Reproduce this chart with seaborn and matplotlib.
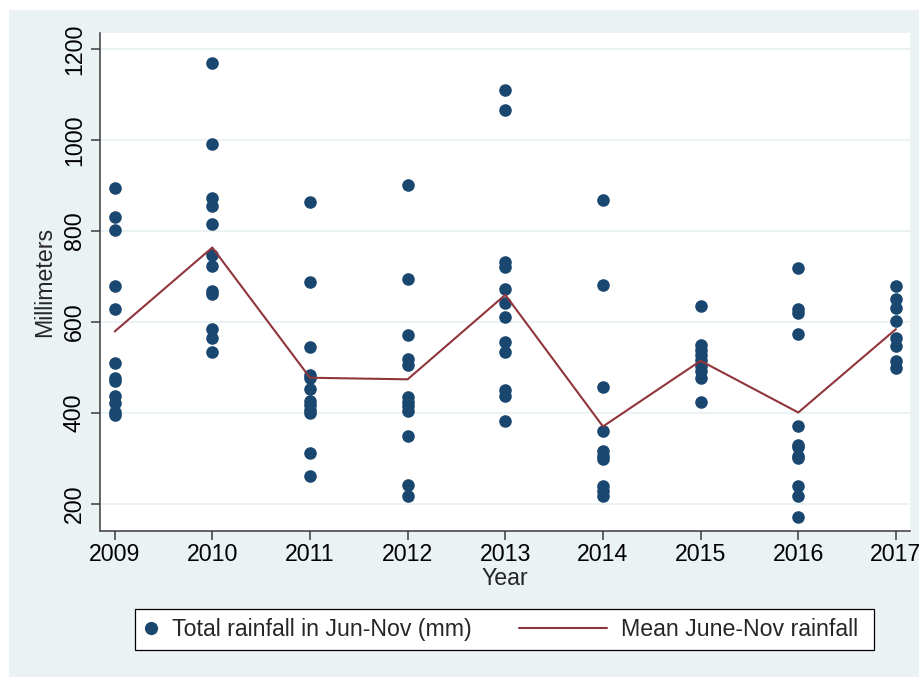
import matplotlib
matplotlib.use("Agg")
import matplotlib.pyplot as plt
import seaborn as sns
import pandas as pd
from matplotlib.patches import Rectangle
from matplotlib.lines import Line2D
from matplotlib.legend_handler import HandlerLine2D

# Rainfall totals (mm) per station, June-November, by year
years = [2009, 2010, 2011, 2012, 2013, 2014, 2015, 2016, 2017]
rain_2009 = [894, 831, 802, 678, 629, 509, 477, 470, 437, 421, 401, 396]
rain_2010 = [1168, 992, 873, 854, 815, 747, 723, 667, 662, 585, 564, 533]
rain_2011 = [864, 687, 544, 484, 476, 453, 426, 416, 407, 399, 311, 262]
rain_2012 = [900, 695, 570, 519, 505, 434, 423, 414, 404, 349, 242, 216]
rain_2013 = [1110, 1066, 731, 720, 673, 642, 610, 555, 533, 449, 437, 382]
rain_2014 = [868, 681, 456, 359, 317, 306, 299, 238, 229, 218]
rain_2015 = [635, 549, 538, 527, 516, 502, 491, 476, 423]
rain_2016 = [719, 628, 619, 573, 370, 328, 325, 304, 300, 240, 216, 171]
rain_2017 = [679, 650, 630, 601, 564, 546, 513, 498]

# Mean June-November rainfall per year
mean_rain = [578.7, 763.3, 477.0, 473.5, 659.3, 369.9, 514.2, 400.6, 583.9]

y_ticks = [200, 400, 600, 800, 1000, 1200]

series = [rain_2009, rain_2010, rain_2011, rain_2012, rain_2013,
          rain_2014, rain_2015, rain_2016, rain_2017]
df = pd.DataFrame(
    [(yr, v) for yr, vals in zip(years, series) for v in vals],
    columns=["year", "rain"],
)
mean_df = pd.DataFrame({"year": years, "mean": mean_rain})

sns.set_style("white")
plt.rcParams["font.family"] = ["Liberation Sans", "DejaVu Sans"]

NAVY = "#1A476F"
MAROON = "#90353B"
BG = "#EAF2F3"
W, H = 920, 677
FS = 16.7


class LongLineHandler(HandlerLine2D):
    """Legend line key that reaches further left than the handle box."""

    def __init__(self, extra, **kw):
        super().__init__(**kw)
        self.extra = extra

    def create_artists(self, legend, orig_handle, xdescent, ydescent,
                       width, height, fontsize, trans):
        ext = self.extra * fontsize
        return super().create_artists(legend, orig_handle, xdescent + ext,
                                      ydescent, width + ext, height,
                                      fontsize, trans)


fig = plt.figure(figsize=(W / 100, H / 100), dpi=100)
fig.patch.set_facecolor("white")
fig.patches.append(Rectangle((9 / W, 0), 1 - 9 / W, 1 - 10 / H,
                             transform=fig.transFigure, facecolor=BG,
                             edgecolor="none", zorder=-10))

ax = fig.add_axes([100.5 / W, (H - 531) / H, (910 - 100.5) / W, (531 - 33) / H])
ax.set_facecolor("white")

sns.scatterplot(data=df, x="year", y="rain", color=NAVY, s=82, linewidth=0,
                ax=ax, zorder=3, label="Total rainfall in Jun-Nov (mm)")
sns.lineplot(data=mean_df, x="year", y="mean", color=MAROON, linewidth=1.5,
             ax=ax, zorder=4, label="Mean June-Nov rainfall")

ax.set_xlim(2008.855, 2017.144)
ax.set_ylim(140, 1235)
ax.set_xticks(years)
ax.set_yticks(y_ticks)
ax.yaxis.grid(True, color=BG, linewidth=1.4)
ax.xaxis.grid(False)
ax.set_axisbelow(True)

for side in ["top", "right"]:
    ax.spines[side].set_visible(False)
for side in ["left", "bottom"]:
    ax.spines[side].set_color("#3a3a3a")
    ax.spines[side].set_linewidth(1.1)

ax.tick_params(axis="both", direction="out", length=6.5, width=1.1,
               color="#3a3a3a", labelsize=FS, labelcolor="black",
               left=True, bottom=True)
ax.tick_params(axis="x", pad=2)
ax.tick_params(axis="y", pad=4, labelrotation=90)
plt.setp(ax.get_yticklabels(), va="center")

ax.set_xlabel("Year", fontsize=FS, labelpad=1)
ax.set_ylabel("Millimeters", fontsize=FS, labelpad=5)

ax.get_legend().remove()
dot_key = Line2D([], [], linestyle="none", marker="o", markersize=9.5,
                 markerfacecolor=NAVY, markeredgewidth=0)
line_key = Line2D([], [], color=MAROON, linewidth=1.5)
labels = ["Total rainfall in Jun-Nov (mm)", "Mean June-Nov rainfall "]
lx0, lx1, ly = 135 / W, 874 / W, 1 - 629.5 / H
leg = fig.legend([dot_key, line_key], labels, loc="center", ncol=2,
                 mode="expand", bbox_to_anchor=(lx0, ly, lx1 - lx0, 0),
                 fontsize=FS, frameon=True, fancybox=False, framealpha=1,
                 borderpad=0.4, handlelength=0.6, handletextpad=0.6,
                 borderaxespad=0,
                 handler_map={line_key: LongLineHandler(3.2)})
leg.get_frame().set_edgecolor("black")
leg.get_frame().set_linewidth(0.9)
leg.get_frame().set_facecolor("white")

fig.savefig("out.png", dpi=100, facecolor=fig.get_facecolor())
